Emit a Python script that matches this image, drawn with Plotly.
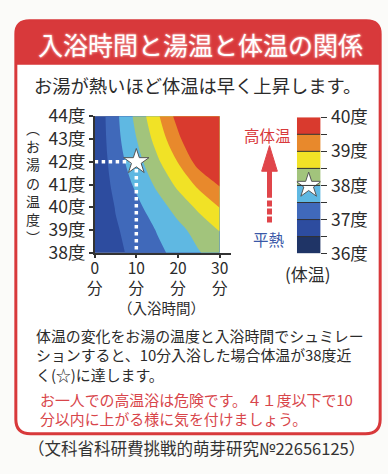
import plotly.graph_objects as go

W, H = 388, 474
FONT = "Noto Sans CJK JP"

# ---------------- data ----------------
bath_minutes = [0, 5, 10, 15, 20, 25, 30]
water_temps = [38, 39, 40, 41, 42, 43, 44]
# body temperature (deg C); rows follow water_temps, columns follow bath_minutes
body_temp_38 = [36.54, 36.90, 37.12, 37.38, 37.66, 37.97, 38.24]
body_temp_39 = [36.54, 36.95, 37.20, 37.53, 37.86, 38.19, 38.52]
body_temp_40 = [36.55, 37.02, 37.37, 37.78, 38.19, 38.60, 39.01]
body_temp_41 = [36.57, 37.14, 37.59, 38.10, 38.61, 39.12, 39.55]
body_temp_42 = [36.58, 37.25, 37.80, 38.41, 39.02, 39.70, 40.24]
body_temp_43 = [36.59, 37.33, 37.99, 38.69, 39.39, 40.09, 40.79]
body_temp_44 = [36.60, 37.37, 38.14, 38.91, 39.68, 40.45, 41.22]
body_temp = [body_temp_38, body_temp_39, body_temp_40, body_temp_41,
             body_temp_42, body_temp_43, body_temp_44]

x_ticks = [0, 10, 20, 30]
y_ticks = water_temps
scale_levels = [36.0, 36.5, 37.0, 37.5, 38.0, 38.5, 39.0, 39.5, 40.0]
scale_ticks = [36, 37, 38, 39, 40]
band_colors = ["#1f3466", "#2d4c9f", "#4069ba", "#5fb8e2",
               "#a2c47c", "#f1e226", "#e8892c", "#d93a2e"]
star_point = (10, 42)     # 10 min bath at 42 deg -> about 38 deg body temp
star_scale_value = 38

# ---------------- helpers (pixel -> paper) ----------------
def X(px):
    return px / W

def Y(py):
    return 1 - py / H

def P(px, py):
    return f"{X(px):.5f},{Y(py):.5f}"

RED = "#d8393b"
TXT = "#2b2b2b"

n = len(band_colors)
colorscale = [[i / (n - 1), c] for i, c in enumerate(band_colors)]
band_mids = [(a + b) / 2 for a, b in zip(scale_levels[:-1], scale_levels[1:])]

fig = go.Figure()

# main contour map
fig.add_trace(go.Contour(
    x=bath_minutes, y=water_temps, z=body_temp,
    colorscale=colorscale, showscale=False,
    contours=dict(start=36.5, end=39.5, size=0.5, coloring="fill", showlines=False),
    line=dict(width=0, smoothing=1.0),
    hoverinfo="skip",
    xaxis="x", yaxis="y",
))

# dotted guide lines to the star
fig.add_trace(go.Scatter(
    x=[x_ticks[0], star_point[0], star_point[0]],
    y=[star_point[1], star_point[1], y_ticks[0]],
    mode="lines", line=dict(color="white", width=3.5, dash="dot"),
    hoverinfo="skip", xaxis="x", yaxis="y",
))
fig.add_trace(go.Scatter(
    x=[star_point[0]], y=[star_point[1]], mode="markers",
    marker=dict(symbol="star", size=19, color="white", line=dict(color="#555", width=1)),
    hoverinfo="skip", xaxis="x", yaxis="y",
))

# colour scale bar
fig.add_trace(go.Heatmap(
    x=[0], y=band_mids, z=[[v] for v in band_mids],
    colorscale=colorscale, zmin=band_mids[0], zmax=band_mids[-1],
    showscale=False, hoverinfo="skip", xaxis="x2", yaxis="y2",
))
fig.add_trace(go.Scatter(
    x=[0], y=[star_scale_value], mode="markers",
    marker=dict(symbol="star", size=19, color="white", line=dict(color="#555", width=1)),
    hoverinfo="skip", xaxis="x2", yaxis="y2",
))

shapes = []
# page box
shapes.append(dict(
    type="path", xref="paper", yref="paper", layer="below",
    path=(f"M{P(8,21)} Q{P(8,7)} {P(22,7)} L{P(366,7)} Q{P(380,7)} {P(380,21)} "
          f"L{P(380,428)} Q{P(380,443)} {P(365,443)} L{P(23,443)} Q{P(8,443)} {P(8,428)} Z"),
    fillcolor="white", line=dict(color=RED, width=3),
))
# title band
shapes.append(dict(
    type="path", xref="paper", yref="paper", layer="below",
    path=f"M{P(8,53)} L{P(8,21)} Q{P(8,7)} {P(22,7)} L{P(366,7)} Q{P(380,7)} {P(380,21)} L{P(380,53)} Z",
    fillcolor=RED, line=dict(color=RED, width=1),
))
# separators in the scale bar
for lv in scale_levels[1:-1]:
    shapes.append(dict(type="line", xref="x2", yref="y2", x0=-0.5, x1=0.5, y0=lv, y1=lv,
                       line=dict(color="#333", width=1), layer="above"))
# arrow (高体温 <- 平熱)
AR = "#e0454a"
shapes.append(dict(type="path", xref="paper", yref="paper",
                   path=f"M{P(267,139)} L{P(275,166)} L{P(259,166)} Z",
                   fillcolor=AR, line=dict(color=AR, width=1)))
shapes.append(dict(type="line", xref="paper", yref="paper",
                   x0=X(267), x1=X(267), y0=Y(165), y1=Y(194), line=dict(color=AR, width=5)))
shapes.append(dict(type="line", xref="paper", yref="paper",
                   x0=X(267), x1=X(267), y0=Y(197), y1=Y(221),
                   line=dict(color=AR, width=5, dash="6px,2px")))

annotations = []
def txt(text, px, py, size, color=TXT, xanchor="center", align="center", **kw):
    annotations.append(dict(text=text, x=X(px), y=Y(py), xref="paper", yref="paper",
                            showarrow=False, xanchor=xanchor, yanchor="middle", align=align,
                            font=dict(family=FONT, size=size, color=color, **kw)))

txt("入浴時間と湯温と体温の関係", 197, 32, 25, "white",
    shadow="0px 0px 3px #f2a3a3, 0px 0px 2px #f2a3a3")
txt("お湯が熱いほど体温は早く上昇します。", 193, 75, 18.3)

# vertical y-axis title (upright characters, one per row)
ylabel = "︵お湯の温度︶"
txt("<br>".join(ylabel), 26, 178, 14)

txt("（入浴時間）", 157, 310, 14.5)

txt("高体温", 265, 128, 15.5, RED)
txt("平熱", 266, 237, 15.5, "#3a58a8")
txt("(体温)", 306, 274, 17)

txt("体温の変化をお湯の温度と入浴時間でシュミレー<br>"
    "ションすると、10分入浴した場合体温が38度近<br>"
    "く(☆)に達します。", 27, 360, 14.9, xanchor="left", align="left")
txt("お一人での高温浴は危険です。４１度以下で10<br>"
    "分以内に上がる様に気を付けましょう。", 31, 417, 14.9, "#d8454a",
    xanchor="left", align="left")
txt("（文科省科研費挑戦的萌芽研究№22656125）", 192, 458, 16.5, "#333")

tickfont = dict(family=FONT, size=17.5, color=TXT)

fig.update_layout(
    width=W, height=H, autosize=False,
    margin=dict(l=0, r=0, t=0, b=0),
    paper_bgcolor="#fbfbf9", plot_bgcolor="rgba(0,0,0,0)",
    showlegend=False,
    shapes=shapes, annotations=annotations,
    xaxis=dict(domain=[X(88.5), X(228)], range=[0, 32.8], anchor="y",
               tickvals=x_ticks, ticktext=[f"{v}<br>分" for v in x_ticks],
               ticks="outside", ticklen=4, tickcolor="#333", tickwidth=1.5,
               ticklabelstandoff=-3,
               showline=True, linecolor="#333", linewidth=1.5,
               showgrid=False, zeroline=False,
               tickfont=dict(family=FONT, size=15.5, color=TXT), fixedrange=True),
    yaxis=dict(domain=[Y(252), Y(108)], range=[38, 44], anchor="x",
               tickvals=y_ticks, ticktext=[f"{v}度" for v in y_ticks],
               ticks="outside", ticklen=4, tickcolor="#333", tickwidth=1.5,
               showline=True, linecolor="#333", linewidth=1.5,
               showgrid=False, zeroline=False, tickfont=tickfont, fixedrange=True),
    xaxis2=dict(domain=[X(295), X(319)], range=[-0.5, 0.5], anchor="y2", visible=False,
                fixedrange=True),
    yaxis2=dict(domain=[Y(253), Y(109)], range=[36, 40], anchor="x2", side="right",
                tickvals=scale_levels,
                ticktext=[f"{int(v)}度" if v in scale_ticks else "" for v in scale_levels],
                ticks="outside", ticklen=6, tickcolor="#333", tickwidth=1,
                showline=False, showgrid=False, zeroline=False, tickfont=tickfont,
                fixedrange=True),
)

fig.write_html("out.html", include_plotlyjs=True, config={"displayModeBar": False},
               post_script="document.body.style.margin='0';document.body.style.overflow='hidden';")
